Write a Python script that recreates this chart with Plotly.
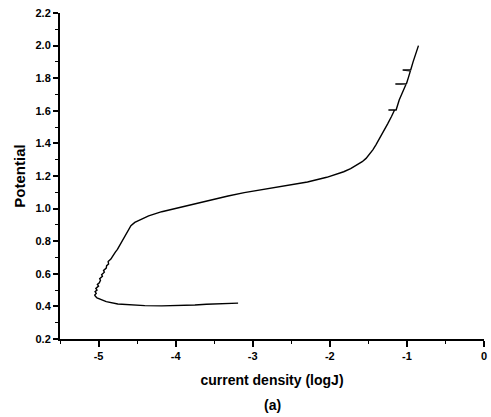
import plotly.graph_objects as go

# current density (logJ) and potential
log_j = [-3.19, -3.32, -3.6, -3.75, -4.0, -4.18, -4.4, -4.6, -4.75, -4.90, -4.97, -5.02, -5.04,
         -5.05, -5.03, -5.045, -5.02, -5.035, -5.00, -5.015, -4.99, -4.975, -4.985, -4.95,
         -4.96, -4.925, -4.935, -4.90, -4.895, -4.87, -4.875, -4.84, -4.82, -4.805, -4.78,
         -4.755, -4.73, -4.705, -4.68, -4.655, -4.63, -4.60, -4.58,
         -4.53, -4.47, -4.35, -4.18, -3.96, -3.75, -3.53, -3.32, -3.11, -2.94, -2.81, -2.55,
         -2.29, -2.04, -1.92, -1.82, -1.73, -1.65, -1.58, -1.53, -1.48, -1.44, -1.40, -1.36,
         -1.30, -1.25, -1.20, -1.16, -1.24, -1.14, -1.10, -1.06,
         -1.03, -1.01, -1.15, -1.005, -0.98, -0.955, -1.055, -0.95, -0.92, -0.885, -0.85]
potential = [0.42, 0.419, 0.413, 0.409, 0.405, 0.403, 0.405, 0.409, 0.415, 0.429, 0.44, 0.452, 0.462,
             0.47, 0.48, 0.49, 0.50, 0.51, 0.525, 0.535, 0.545, 0.56, 0.57, 0.585,
             0.595, 0.61, 0.62, 0.635, 0.65, 0.66, 0.675, 0.69, 0.705, 0.72, 0.735,
             0.75, 0.77, 0.79, 0.81, 0.83, 0.85, 0.872, 0.895,
             0.915, 0.93, 0.955, 0.981, 1.006, 1.032, 1.053, 1.077, 1.098, 1.111, 1.122, 1.142,
             1.163, 1.192, 1.208, 1.226, 1.245, 1.267, 1.288, 1.308, 1.335, 1.362, 1.393, 1.425,
             1.472, 1.52, 1.565, 1.605, 1.605, 1.605, 1.666, 1.71,
             1.745, 1.764, 1.764, 1.767, 1.805, 1.845, 1.85, 1.852, 1.90, 1.95, 2.0]

x_tickvals = [-5, -4, -3, -2, -1, 0]
x_ticktext = ["-5", "-4", "-3", "-2", "-1", "0"]
y_tickvals = [0.2, 0.4, 0.6, 0.8, 1.0, 1.2, 1.4, 1.6, 1.8, 2.0, 2.2]
y_ticktext = ["0.2", "0.4", "0.6", "0.8", "1.0", "1.2", "1.4", "1.6", "1.8", "2.0", "2.2"]

FONT = "Arial, Liberation Sans, sans-serif"

fig = go.Figure()
fig.add_trace(go.Scatter(x=log_j, y=potential, mode="lines",
                         line=dict(color="black", width=1.4), showlegend=False))

fig.update_layout(
    width=491, height=417,
    margin=dict(l=60, r=4, t=13, b=78),
    paper_bgcolor="white", plot_bgcolor="white",
    font=dict(family=FONT, color="black"),
    xaxis=dict(range=[-5.5, 0], tickvals=x_tickvals, ticktext=x_ticktext,
               showgrid=False, zeroline=False, showline=True, linecolor="black", linewidth=2,
               ticks="outside", ticklen=6, tickwidth=1.5, tickcolor="black",
               minor=dict(dtick=0.5, ticks="outside", ticklen=3, tickwidth=1, tickcolor="black"),
               tickfont=dict(size=11, family=FONT, weight="bold"),
               title=dict(text="current density (logJ)", font=dict(size=14, weight="bold"), standoff=14)),
    yaxis=dict(range=[0.2, 2.2], tickvals=y_tickvals, ticktext=y_ticktext,
               showgrid=False, zeroline=False, showline=True, linecolor="black", linewidth=2,
               ticks="outside", ticklen=5, tickwidth=1.5, tickcolor="black",
               minor=dict(dtick=0.1, ticks="outside", ticklen=3, tickwidth=1, tickcolor="black"),
               tickfont=dict(size=11, family=FONT, weight="bold"),
               title=dict(text="Potential", font=dict(size=15, weight="bold"), standoff=6)),
    annotations=[dict(text="(a)", x=0.5, y=-0.172, xref="paper", yref="paper",
                      xanchor="center", yanchor="top", showarrow=False,
                      font=dict(size=14, family=FONT, weight="bold"))],
)

fig.write_html("out.html")
